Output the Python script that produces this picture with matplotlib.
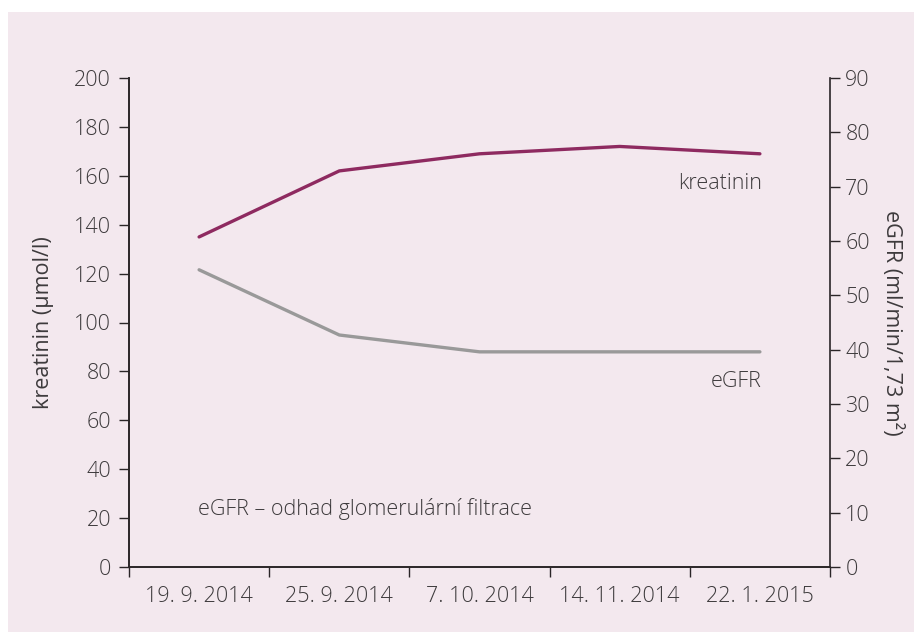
import matplotlib
matplotlib.use("Agg")
import matplotlib.pyplot as plt
from matplotlib.patches import Rectangle

dates = ["19. 9. 2014", "25. 9. 2014", "7. 10. 2014", "14. 11. 2014", "22. 1. 2015"]
kreatinin = [135, 162, 169, 172, 169]
egfr = [54.7, 42.7, 39.6, 39.6, 39.6]

bg = "#f3e8ee"
txt = "#3d3a3c"
plt.rcParams["font.family"] = ["Open Sans", "DejaVu Sans"]
plt.rcParams["font.size"] = 15.5
plt.rcParams["font.weight"] = "light"

fig = plt.figure(figsize=(9.14, 6.32), dpi=100)
fig.patch.set_facecolor("white")
fig.patches.append(Rectangle((8 / 914, 0), 1, 1 - 12 / 632, transform=fig.transFigure,
                             facecolor=bg, edgecolor="none", zorder=-10))

ax = fig.add_axes([129 / 914, 65 / 632, 701 / 914, 489 / 632])
ax.set_facecolor("none")
ax2 = ax.twinx()

x = list(range(len(dates)))
ax.plot(x, kreatinin, color="#8e2a60", lw=2.4, solid_capstyle="round")
ax2.plot(x, egfr, color="#999999", lw=2.4, solid_capstyle="round")

ax.set_xlim(-0.5, len(dates) - 0.5)
ax.set_ylim(0, 200)
ax.set_yticks(range(0, 201, 20))
ax2.set_ylim(0, 90)
ax2.set_yticks(range(0, 91, 10))

ax.set_xticks(x)
ax.set_xticklabels(dates)
ax.set_xticks([i - 0.5 for i in range(len(dates) + 1)], minor=True)
ax.tick_params(axis="x", which="major", length=0, pad=14, colors=txt)
ax.tick_params(axis="x", which="minor", length=7, width=1, color="#2a2527")
ax.tick_params(axis="y", length=7, width=1, color="#2a2527", labelcolor=txt, pad=6)
ax2.tick_params(axis="y", length=7, width=1, color="#2a2527", labelcolor=txt, pad=4)

for a in (ax, ax2):
    a.spines["top"].set_visible(False)
    for s in ("left", "right", "bottom"):
        a.spines[s].set_color("#2a2527")
        a.spines[s].set_linewidth(1.2)
ax.spines["right"].set_visible(False)

ax.set_ylabel("kreatinin (µmol/l)", color=txt, labelpad=14)
ax2.set_ylabel("eGFR (ml/min/1,73 m²)", color=txt, rotation=270, labelpad=24)

ax.text(0.903, 0.785, "kreatinin", transform=ax.transAxes, ha="right", va="center", color=txt)
ax.text(0.903, 0.380, "eGFR", transform=ax.transAxes, ha="right", va="center", color=txt)
ax.text(0.098, 0.1186, "eGFR – odhad glomerulární filtrace", transform=ax.transAxes,
        ha="left", va="center", color=txt)

fig.savefig("out.png", dpi=100)
